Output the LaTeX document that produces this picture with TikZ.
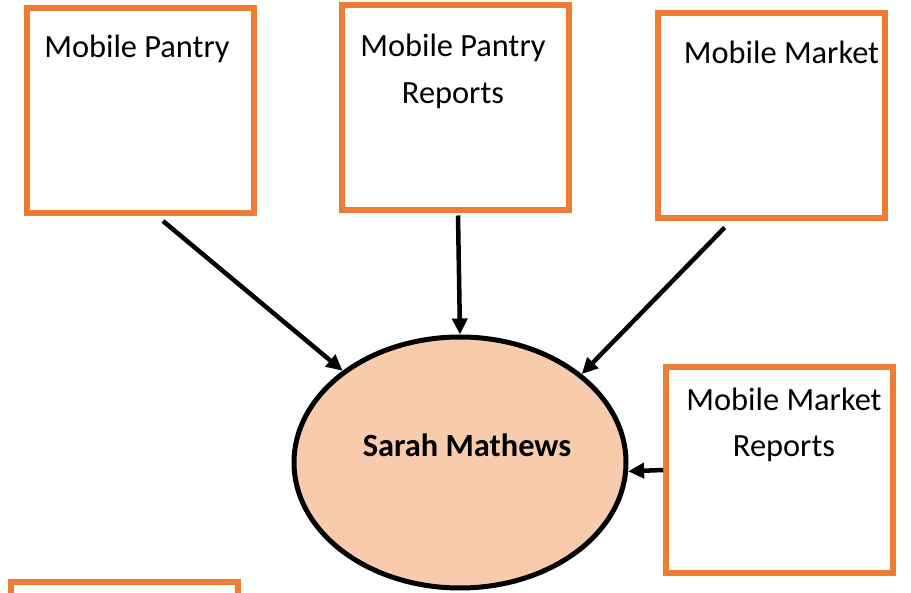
\documentclass[tikz,border=0pt]{standalone}
\usepackage{fontspec}
\setmainfont{Carlito}
\usetikzlibrary{shapes.geometric,arrows.meta,calc}
\definecolor{boxorange}{HTML}{ED7D31}
\definecolor{ellfill}{HTML}{F8CBAD}
\tikzset{
  box/.style={draw=boxorange, line width=6pt, fill=white, rectangle,
              minimum width=227pt, minimum height=205pt, inner sep=0pt},
  lbl/.style={font=\fontsize{32.4}{47}\selectfont, inner sep=0pt, align=center, anchor=base},
  conn/.style={draw=black, line width=4.5pt, -{Triangle[length=16pt,width=15pt]}},
}
\begin{document}
\begin{tikzpicture}[x=1pt,y=-1pt]
\useasboundingbox (0,0) rectangle (911,593);
\node[box] (b1) at (140,110.5) {};
\node[box] (b2) at (455,108) {};
\node[box] (b3) at (771.7,116) {};
\node[box] (b4) at (779.7,470) {};
\node[box] (b5) at (124,684.8) {};
\node[draw=black, line width=5pt, fill=ellfill, ellipse, inner sep=0pt,
      minimum width=332pt, minimum height=251pt] (sm) at (460,462.5) {};
\node[lbl] (t1) at (137,57.5) {Mobile Pantry};
\node[lbl] (t2) at (453,104) {Mobile Pantry\\Reports};
\node[lbl] (t3) at (781.5,64) {Mobile Market};
\node[lbl] (t4) at (784,457) {Mobile Market\\Reports};
\node[lbl, font=\fontsize{32.4}{47}\selectfont\bfseries] (t5) at (467,457) {Sarah Mathews};
\coordinate (s1) at ($(b1.south)+(23,5)$);
\coordinate (s2) at ($(b2.south)+(3,2)$);
\coordinate (s3) at ($(b3.south)+(-47,6)$);
\draw[conn] (s1) -- (sm.142);
\draw[conn] (s2) -- (sm.north);
\draw[conn] (s3) -- (sm.36);
\draw[conn] (b4.west) -- (sm.-3);
\end{tikzpicture}
\end{document}
